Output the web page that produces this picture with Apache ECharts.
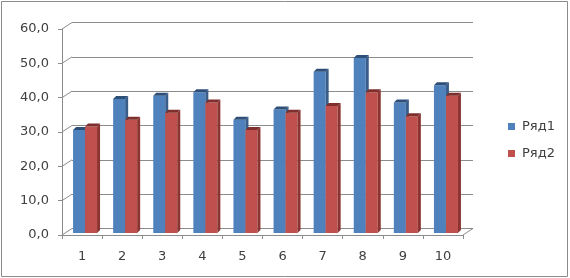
<!DOCTYPE html>
<html><head><meta charset="utf-8">
<script src="https://cdn.jsdelivr.net/npm/echarts@6/dist/echarts.min.js"></script>
<style>html,body{margin:0;padding:0;background:#fff}#c{width:570px;height:278px}</style>
</head><body><div id="c"></div>
<script>
const categories = ['1','2','3','4','5','6','7','8','9','10'];
const seriesNames = ['Ряд1','Ряд2'];
const series1 = [30,39,40,41,33,36,47,51,38,43];
const series2 = [31,33,35,38,30,35,37,41,34,40];
const yTicks = [0,10,20,30,40,50,60];

const FONT = 'DejaVu Sans';
const TXT = '#404040';
const GRID_C = '#8c8c8c';
const colors = [
  {front:'#4F81BD', side:'#385D8A', top:'#2E4F78'},
  {front:'#C0504D', side:'#8C3431', top:'#7E2F2D'}
];
const D = 3; // depth px

function makeRender(si){
  return function(params, api){
    const idx = api.value(0);
    const v = api.value(1);
    const base = api.coord([idx, 0]);
    const topP = api.coord([idx, v]);
    const bw = 12;
    const x0 = base[0] - bw + si*bw;
    const x1 = x0 + bw;
    const yB = base[1], yT = topP[1];
    const c = colors[si];
    return {type:'group', children:[
      {type:'rect', shape:{x:x0, y:yT, width:bw, height:yB-yT}, style:{fill:c.front}},
      {type:'polygon', shape:{points:[[x1,yT],[x1+D,yT-D],[x1+D,yB-D],[x1,yB]]}, style:{fill:c.side}},
      {type:'polygon', shape:{points:[[x0,yT],[x0+D,yT-D],[x1+D,yT-D],[x1,yT]]}, style:{fill:c.top}}
    ]};
  };
}

const chart = echarts.init(document.getElementById('c'), null, {renderer:'canvas'});
const yBase = {type:'value', min:0, max:60, interval:10};
chart.setOption({
  animation:false,
  grid:[
    {left:72, right:97, top:22.5, bottom:49.5},   // back wall
    {left:62, right:107, top:29, bottom:43},      // front axes
    {left:65, right:104, top:27, bottom:45}       // bars
  ],
  xAxis:[
    {gridIndex:0, type:'category', data:categories, show:false},
    {gridIndex:1, type:'category', data:categories,
      axisLine:{show:true, lineStyle:{color:GRID_C}},
      axisTick:{show:true, length:4, lineStyle:{color:GRID_C}},
      axisLabel:{color:TXT, fontFamily:FONT, fontSize:13, margin:15}},
    {gridIndex:2, type:'category', data:categories, show:false}
  ],
  yAxis:[
    Object.assign({gridIndex:0, axisLine:{show:false}, axisTick:{show:false}, axisLabel:{show:false},
      splitLine:{show:true, lineStyle:{color:GRID_C, width:1}}}, yBase),
    Object.assign({gridIndex:1, axisLine:{show:true, lineStyle:{color:GRID_C}},
      axisTick:{show:true, length:4, lineStyle:{color:GRID_C}},
      axisLabel:{color:TXT, fontFamily:FONT, fontSize:13, margin:13,
        formatter:v=>v.toFixed(1).replace('.',',')},
      splitLine:{show:false}}, yBase),
    Object.assign({gridIndex:2, show:false, splitLine:{show:false}}, yBase)
  ],
  legend:{
    orient:'vertical', left:508, top:120, padding:0, itemWidth:7, itemHeight:7, itemGap:14,
    icon:'rect', data:seriesNames,
    textStyle:{color:TXT, fontFamily:FONT, fontSize:13, padding:[0,0,0,2]}
  },
  series:[
    {name:seriesNames[0], type:'custom', xAxisIndex:2, yAxisIndex:2, itemStyle:{color:colors[0].front},
      renderItem:makeRender(0), data:series1.map((v,i)=>[i,v]), z:3},
    {name:seriesNames[1], type:'custom', xAxisIndex:2, yAxisIndex:2, itemStyle:{color:colors[1].front},
      renderItem:makeRender(1), data:series2.map((v,i)=>[i,v]), z:4}
  ]
});

// walls: diagonals connecting front axis with back wall
const g = [];
yTicks.forEach(t=>{
  const f = chart.convertToPixel({gridIndex:1}, [0, t]);
  const b = chart.convertToPixel({gridIndex:0}, [0, t]);
  const fx = 62, bx = 72;
  g.push({type:'line', shape:{x1:fx, y1:f[1], x2:bx, y2:b[1]}, style:{stroke:GRID_C, lineWidth:1}, z:1});
});
// floor right edge
const f0 = chart.convertToPixel({gridIndex:1}, [0, 0]);
const b0 = chart.convertToPixel({gridIndex:0}, [0, 0]);
g.push({type:'line', shape:{x1:463, y1:f0[1], x2:473, y2:b0[1]}, style:{stroke:GRID_C, lineWidth:1}, z:1});
g.push({type:'rect', shape:{x:1.5, y:1.5, width:566, height:275}, style:{fill:null, stroke:'#8c8c8c', lineWidth:1}, z:0});
chart.setOption({graphic:g});
</script></body></html>
